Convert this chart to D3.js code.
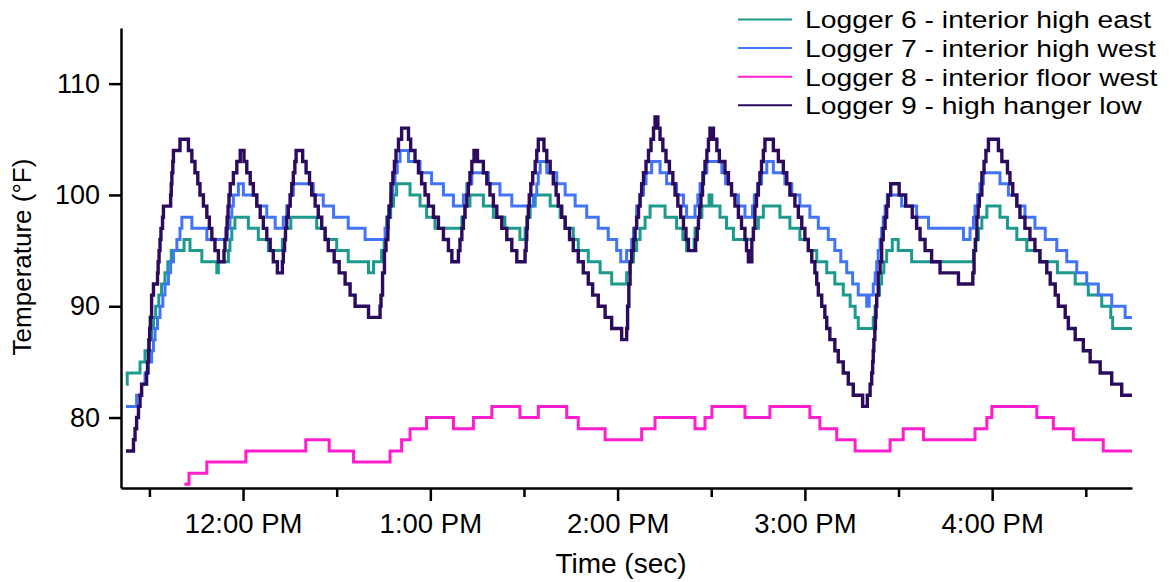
<!DOCTYPE html>
<html><head><meta charset="utf-8">
<script src="https://cdn.jsdelivr.net/npm/d3@7"></script>
<style>
html,body{margin:0;padding:0;background:#fff;}
svg{display:block;}
text{font-family:"Liberation Sans",Arial,Helvetica,sans-serif;fill:#000;}
</style></head><body>
<svg id="chart" width="1169" height="582"></svg>
<script>
// ---- data: [minutes relative to 12:00 PM, temperature °F] change points (step-after) ----
const seriesNames = ["Logger 6 - interior high east","Logger 7 - interior high west","Logger 8 - interior floor west","Logger 9 - high hanger low"];

const logger6 = [[-37.5,83],[-37.1,84],[-33.0,85],[-31.4,86],[-30.3,87],[-29.3,88],[-28.7,89],[-28.0,90],[-27.0,91],[-26.1,92],[-25.0,93],[-24.1,94],[-23.0,95],[-18.9,96],[-17.0,95],[-13.2,94],[-8.4,93],[-7.9,94],[-4.7,95],[-4.2,96],[-3.6,97],[-2.6,98],[1.7,97],[4.9,96],[8.1,95],[12.6,96],[13.6,97],[15.3,98],[23.6,97],[26.3,96],[30.0,95],[33.7,94],[40.2,93],[41.8,94],[44.4,95],[45.2,96],[45.8,97],[46.6,98],[47.3,99],[48.2,100],[49.2,101],[53.5,100],[56.7,99],[58.8,98],[61.5,97],[70.1,98],[71.1,99],[72.7,100],[77.0,99],[80.2,98],[83.9,97],[88.7,96],[90.35,97],[90.9,98],[92.0,99],[93.6,100],[98.4,99],[101.6,98],[103.2,97],[105.8,96],[107.4,95],[110.6,94],[114.4,93],[118.1,92],[122.9,93],[124.0,94],[125.1,95],[126.1,96],[127.2,97],[128.8,98],[130.4,99],[135.2,98],[138.9,97],[140.9,96],[142.1,95],[144.5,96],[144.8,97],[145.9,98],[147.0,99],[149.3,100],[150.2,99],[152.8,98],[154.9,97],[157.1,96],[163.5,97],[165.1,98],[166.7,99],[172.0,98],[175.2,97],[178.4,96],[181.1,95],[183.8,94],[187.0,93],[189.6,92],[192.3,91],[194.5,90],[196.1,89],[197.1,88],[201.9,89],[202.5,90],[203.0,91],[203.9,92],[204.6,93],[205.3,94],[206.2,95],[208.0,96],[209.9,95],[214.2,94],[234.0,95],[234.8,96],[235.6,97],[236.7,98],[238.3,99],[242.5,98],[244.9,97],[247.9,96],[251.1,95],[255.3,94],[260.9,93],[266.6,92],[270.8,91],[275.1,90],[278.0,89],[278.6,88],[284.8,88]];

const logger7 = [[-37.5,81],[-34.1,82],[-32.5,83],[-31.4,84],[-30.3,85],[-29.3,86],[-28.7,87],[-28.2,88],[-27.4,89],[-26.6,90],[-25.7,91],[-25.0,92],[-23.9,93],[-23.2,94],[-22.3,95],[-21.2,96],[-20.2,97],[-19.6,98],[-16.4,97],[-11.6,96],[-5.0,97],[-4.2,98],[-3.6,99],[-3.1,100],[-1.5,101],[0.1,100],[4.4,99],[7.6,98],[10.3,97],[12.9,98],[14.0,99],[15.1,100],[16.1,101],[22.5,100],[25.7,99],[29.0,98],[33.7,97],[39.1,96],[45.5,97],[46.0,98],[46.6,99],[47.3,100],[48.0,101],[48.7,102],[49.4,103],[50.3,104],[53.0,103],[56.7,102],[60.4,101],[64.2,100],[67.4,99],[70.6,100],[71.7,101],[73.3,102],[78.6,101],[82.3,100],[86.1,99],[93.0,100],[94.1,101],[94.6,102],[95.2,103],[97.3,102],[100.5,101],[103.2,100],[106.4,99],[110.1,98],[113.8,97],[117.0,96],[119.7,95],[121.0,94],[122.9,95],[124.5,96],[125.1,97],[126.1,99],[127.2,100],[128.3,101],[129.1,102],[130.9,103],[133.6,102],[135.7,101],[138.9,100],[141.1,99],[142.1,98],[144.8,99],[145.7,100],[146.4,101],[147.2,102],[148.6,103],[153.4,102],[154.6,101],[156.5,100],[158.7,99],[160.8,98],[163.2,99],[163.8,100],[164.8,101],[166.1,102],[167.8,103],[169.9,102],[173.6,101],[175.8,100],[178.4,99],[181.6,98],[184.3,97],[187.5,96],[189.6,95],[191.5,94],[193.4,93],[195.3,92],[197.1,91],[199.8,90],[200.6,91],[201.9,92],[202.5,93],[203.0,94],[203.5,95],[204.1,96],[204.6,97],[205.1,98],[205.7,99],[206.4,100],[211.0,99],[215.8,98],[219.6,97],[230.8,96],[232.9,97],[234.0,98],[234.5,99],[235.3,100],[236.1,101],[237.2,102],[242.5,101],[245.2,100],[247.9,99],[250.5,98],[253.7,97],[257.0,96],[260.7,95],[263.9,94],[267.1,93],[270.3,92],[274.0,91],[278.3,90],[282.6,89],[284.8,89]];

const logger8 = [[-18.8,74],[-17.3,75],[-11.6,76],[0.9,77],[20.1,78],[27.6,77],[35.4,76],[47.1,77],[50.8,78],[53.5,79],[58.8,80],[67.4,79],[73.8,80],[79.7,81],[88.7,80],[94.6,81],[103.7,80],[107.4,79],[116.0,78],[127.7,79],[132.0,80],[144.8,79],[148.0,80],[150.2,81],[160.8,80],[168.8,81],[181.6,80],[184.8,79],[190.2,78],[196.1,77],[207.3,78],[211.5,79],[218.0,78],[234.5,79],[238.3,80],[239.9,81],[254.3,80],[259.6,79],[266.0,78],[275.6,77],[284.8,77]];

const logger9 = [[-37.5,77],[-35.1,78],[-34.6,79],[-34.1,80],[-33.5,81],[-33.0,82],[-32.5,83],[-30.9,84],[-30.6,85],[-30.3,86],[-30.1,87],[-29.9,88],[-29.7,89],[-29.3,91],[-28.7,92],[-27.4,93],[-27.2,94],[-26.9,95],[-26.6,96],[-26.3,97],[-25.8,98],[-25.5,99],[-23.2,100],[-23.0,101],[-22.8,102],[-22.5,103],[-22.3,104],[-20.2,105],[-17.5,104],[-16.4,103],[-15.4,102],[-14.5,101],[-13.8,100],[-12.7,99],[-11.6,98],[-10.8,97],[-10.0,96],[-9.0,95],[-7.9,94],[-6.1,95],[-5.8,96],[-5.4,97],[-5.1,98],[-4.8,99],[-4.5,100],[-4.1,101],[-3.1,102],[-2.0,103],[-0.9,104],[0.3,103],[1.2,102],[2.3,101],[3.3,100],[4.4,99],[5.5,98],[6.5,97],[7.6,96],[8.7,95],[9.7,94],[11.0,93],[12.6,94],[12.9,95],[13.3,96],[13.6,97],[14.0,98],[14.5,99],[15.1,100],[15.6,101],[16.1,102],[16.6,103],[17.0,104],[19.1,103],[20.2,102],[21.3,101],[22.0,100],[23.1,99],[24.1,98],[25.2,97],[26.3,96],[27.3,95],[29.2,94],[30.8,93],[32.7,92],[34.3,91],[35.9,90],[40.2,89],[43.9,90],[44.2,91],[44.7,93],[45.3,95],[45.8,96],[46.4,98],[46.9,99],[47.4,101],[48.0,102],[48.5,103],[49.0,104],[49.8,105],[50.8,106],[53.0,105],[53.7,104],[55.1,103],[56.2,102],[57.2,101],[58.3,100],[59.4,99],[61.0,98],[62.6,97],[64.2,96],[65.8,95],[66.9,94],[69.0,95],[69.5,96],[70.1,97],[70.6,98],[71.1,99],[71.7,100],[72.2,101],[72.7,102],[73.3,103],[74.0,104],[75.1,103],[77.0,102],[78.1,101],[79.1,100],[80.2,99],[81.3,98],[82.9,97],[84.5,96],[86.1,95],[87.7,94],[90.35,95],[90.7,96],[90.9,97],[91.1,98],[91.4,99],[91.7,100],[92.2,101],[92.8,102],[93.6,103],[94.1,104],[94.6,105],[96.4,104],[97.3,103],[98.4,102],[99.4,101],[100.3,100],[101.0,99],[102.1,98],[103.2,97],[104.6,96],[105.8,95],[107.4,94],[109.0,93],[110.6,92],[112.0,91],[113.8,90],[116.0,89],[118.1,88],[121.3,87],[122.9,88],[123.2,90],[123.6,92],[124.0,94],[124.5,95],[125.1,96],[125.6,97],[126.1,98],[126.7,99],[127.2,100],[127.7,101],[128.3,102],[129.1,103],[129.9,104],[130.7,105],[131.5,106],[132.0,107],[132.9,106],[133.6,105],[134.5,104],[135.5,103],[136.6,102],[137.7,101],[138.4,100],[139.3,99],[140.2,98],[141.1,97],[141.9,96],[142.7,95],[145.0,96],[145.5,97],[145.9,98],[146.3,99],[146.7,100],[147.2,101],[147.5,102],[148.0,103],[148.6,104],[149.1,105],[149.6,106],[150.7,105],[151.8,104],[152.6,103],[154.4,102],[155.5,101],[156.5,100],[157.6,99],[158.7,98],[159.7,97],[160.8,96],[161.3,95],[161.9,94],[163.0,96],[163.5,97],[164.0,99],[164.5,100],[165.1,101],[165.6,102],[166.1,103],[166.7,104],[167.2,105],[169.9,104],[171.5,103],[173.1,102],[174.2,101],[175.2,100],[176.8,99],[177.9,98],[179.0,97],[180.0,96],[181.1,95],[182.2,94],[183.2,93],[183.8,92],[184.3,91],[185.4,90],[186.4,89],[187.0,88],[188.0,87],[189.6,86],[190.7,85],[192.3,84],[193.9,83],[195.5,82],[198.5,81],[200.0,82],[200.9,83],[201.4,84],[201.7,85],[201.9,86],[202.1,87],[202.4,88],[202.6,89],[202.8,90],[203.0,91],[203.5,93],[204.1,94],[204.6,96],[205.1,97],[205.7,98],[206.2,99],[206.7,100],[207.5,101],[210.2,100],[212.3,99],[214.4,98],[215.8,97],[216.9,96],[218.5,95],[220.6,94],[223.3,93],[229.2,92],[233.8,93],[234.2,95],[234.6,96],[235.1,98],[235.5,99],[235.9,100],[236.7,102],[237.4,103],[238.0,104],[238.8,105],[242.0,104],[243.1,103],[244.9,102],[245.7,101],[246.6,100],[247.9,99],[248.9,98],[250.5,97],[252.1,96],[253.7,95],[255.3,94],[257.5,93],[258.6,92],[260.2,91],[261.2,90],[263.4,89],[264.4,88],[266.6,87],[269.2,86],[271.4,85],[274.6,84],[278.3,83],[281.5,82],[284.8,82]];

const yTicks = [80, 90, 100, 110];
const xTickMinutes = [-30, 0, 30, 60, 90, 120, 150, 180, 210, 240, 270];
const xTickLabels = ["", "12:00 PM", "", "1:00 PM", "", "2:00 PM", "", "3:00 PM", "", "4:00 PM", ""];
const xDomainMinutes = [-39.1, 284.8];
const yDomain = [73.67, 115];

// ---- styles ----
const colors = ["#1c9a8c", "#4274f8", "#ff1ecf", "#2c0b5e"];
const widths = [3, 3, 3, 3.4];

const base = new Date(2000, 0, 1, 12, 0, 0);
const toDate = m => new Date(base.getTime() + m * 60000);

const svg = d3.select("#chart");
const x = d3.scaleTime().domain(xDomainMinutes.map(toDate)).range([121, 1132]);
const y = d3.scaleLinear().domain(yDomain).range([488, 28]);

const line = d3.line()
  .x(d => x(toDate(d[0])))
  .y(d => y(d[1]))
  .curve(d3.curveStepAfter);

const allSeries = [logger6, logger7, logger8, logger9];
svg.append("g").selectAll("path").data(allSeries).join("path")
  .attr("d", line)
  .attr("fill", "none")
  .attr("stroke", (d, i) => colors[i])
  .attr("stroke-width", (d, i) => widths[i])
  .attr("stroke-linejoin", "miter");

// axes
const yAxis = d3.axisLeft(y).tickValues(yTicks).tickSize(12).tickSizeOuter(0).tickPadding(9).tickFormat(d3.format("d"));
const gy = svg.append("g").attr("transform", "translate(121,0)").call(yAxis);
gy.select(".domain").attr("stroke", "#000").attr("stroke-width", 2.5);
gy.selectAll(".tick line").attr("stroke", "#000").attr("stroke-width", 2.5);
gy.selectAll(".tick text").attr("font-size", 27).attr("font-family", "Liberation Sans, Arial, sans-serif").attr("fill", "#000");

const xAxis = d3.axisBottom(x).tickValues(xTickMinutes.map(toDate)).tickSize(13).tickSizeOuter(0).tickPadding(12)
  .tickFormat((d, i) => xTickLabels[i]);
const gx = svg.append("g").attr("transform", "translate(0,488)").call(xAxis);
gx.select(".domain").attr("stroke", "#000").attr("stroke-width", 2.5);
gx.selectAll(".tick line").attr("stroke", "#000").attr("stroke-width", 2.5)
  .attr("y2", (d, i) => xTickLabels[i] === "" ? 9 : 13);
gx.selectAll(".tick text").attr("font-size", 27.5).attr("font-family", "Liberation Sans, Arial, sans-serif").attr("fill", "#000");

// axis titles
svg.append("text").attr("transform", "translate(31,257) rotate(-90)")
  .attr("text-anchor", "middle").attr("font-size", 26).text("Temperature (°F)");
svg.append("text").attr("x", 621).attr("y", 573)
  .attr("text-anchor", "middle").attr("font-size", 28).text("Time (sec)");

// legend (slightly wide-set text, as in the reference)
const legend = svg.append("g");
seriesNames.forEach((name, i) => {
  const ly = 19.5 + i * 28.6;
  legend.append("line").attr("x1", 738).attr("x2", 792).attr("y1", ly).attr("y2", ly)
    .attr("stroke", colors[i]).attr("stroke-width", 2);
  const t = legend.append("text").attr("x", 805).attr("y", ly).attr("dy", "0.36em")
    .attr("font-size", 24.5).text(name);
  const w = t.node().getComputedTextLength();
  t.attr("textLength", w * 28.3 / 24.5).attr("lengthAdjust", "spacingAndGlyphs");
});
</script>
</body></html>
